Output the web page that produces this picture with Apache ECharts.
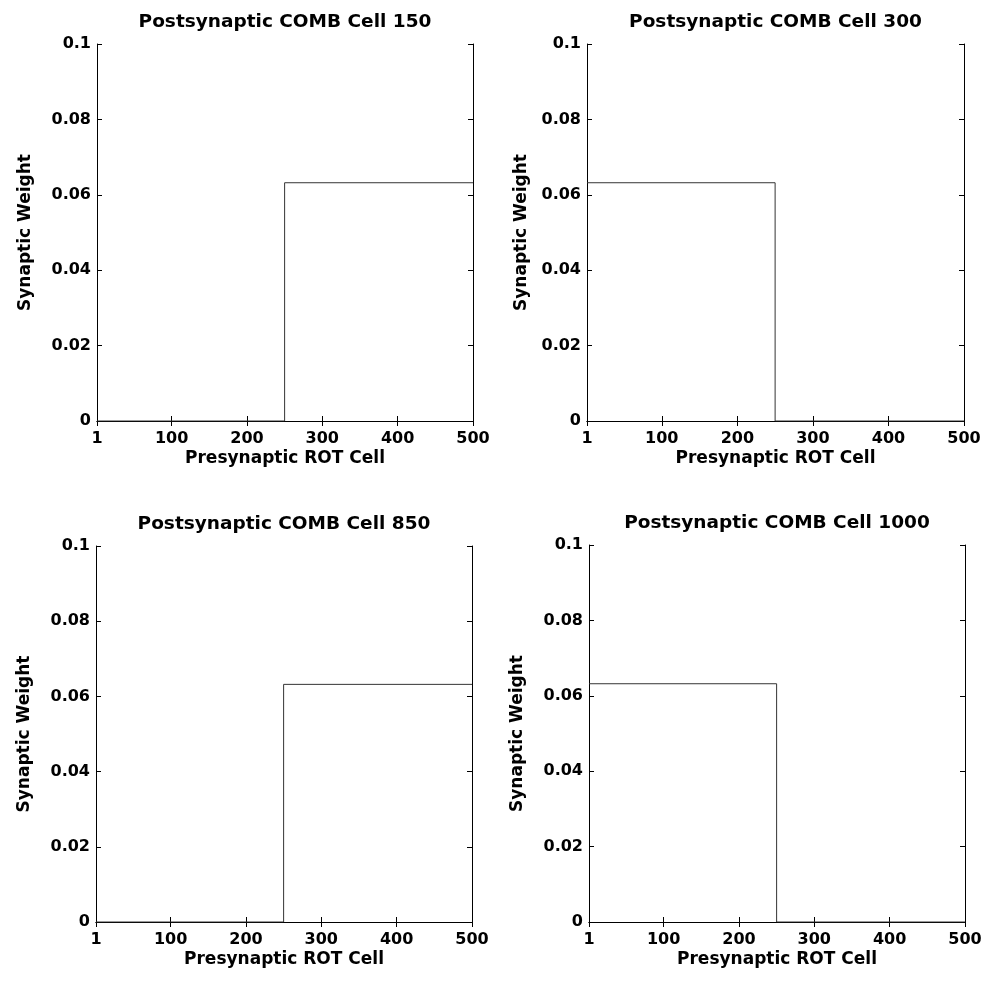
<!DOCTYPE html>
<html>
<head>
<meta charset="utf-8">
<script src="https://cdn.jsdelivr.net/npm/echarts@6/dist/echarts.min.js"></script>
<style>
html, body { margin: 0; padding: 0; background: #fff; }
#chart { width: 997px; height: 982px; }
</style>
</head>
<body>
<div id="chart"></div>
<script>
// step break points (presynaptic ROT cell)
const cells = [1, 250, 250, 500];
// weights for the two kinds of panel
const weightsHigh = [0, 0, 0.0632, 0.0632];
const weightsLow = [0.0632, 0.0632, 0, 0];
const panelTitles = [
	'Postsynaptic COMB Cell 150',
	'Postsynaptic COMB Cell 300',
	'Postsynaptic COMB Cell 850',
	'Postsynaptic COMB Cell 1000',
];
const panelWeights = [weightsHigh, weightsLow, weightsHigh, weightsLow];
const xTicks = [1, 100, 200, 300, 400, 500];
const xName = 'Presynaptic ROT Cell';
const yName = 'Synaptic Weight';

const font = 'DejaVu Sans';
const grids = [
	{ left: 97, top: 44, width: 376, height: 377 },
	{ left: 587, top: 44, width: 377, height: 377 },
	{ left: 96, top: 546, width: 376, height: 376 },
	{ left: 589, top: 545, width: 376, height: 377 },
];
const yNameGaps = [63, 57, 63, 63];

const chart = echarts.init(document.getElementById('chart'));
const title = [];
const xAxis = [];
const yAxis = [];
const series = [];
const line = { show: true, lineStyle: { color: '#000', width: 1 } };
const xTick = {
	show: true,
	inside: true,
	length: 5,
	customValues: xTicks,
	lineStyle: { color: '#000', width: 1 },
};
const yTick = {
	show: true,
	inside: true,
	length: 5,
	lineStyle: { color: '#000', width: 1 },
};

grids.forEach((g, i) => {
	title.push({
		text: panelTitles[i],
		left: g.left + g.width / 2,
		top: g.top - 31,
		textAlign: 'center',
		padding: 0,
		textStyle: { fontFamily: font, fontWeight: 'bold', fontSize: 18.5, color: '#000' },
	});
	// bottom + top x axes (box)
	xAxis.push({
		type: 'value',
		gridIndex: i,
		min: 1,
		max: 500,
		position: 'bottom',
		name: xName,
		nameLocation: 'middle',
		nameGap: 29,
		nameTextStyle: { fontFamily: font, fontWeight: 'bold', fontSize: 17, color: '#000' },
		axisLine: line,
		axisTick: xTick,
		axisLabel: {
			customValues: xTicks,
			margin: 10,
			fontFamily: font,
			fontWeight: 'bold',
			fontSize: 16,
			color: '#000',
		},
		splitLine: { show: false },
	});
	xAxis.push({
		type: 'value',
		gridIndex: i,
		min: 1,
		max: 500,
		position: 'top',
		axisLine: line,
		axisTick: xTick,
		axisLabel: { show: false },
		splitLine: { show: false },
	});
	// left + right y axes
	yAxis.push({
		type: 'value',
		gridIndex: i,
		min: 0,
		max: 0.1,
		interval: 0.02,
		position: 'left',
		name: yName,
		nameLocation: 'middle',
		nameGap: yNameGaps[i],
		nameTextStyle: { fontFamily: font, fontWeight: 'bold', fontSize: 17, color: '#000' },
		axisLine: line,
		axisTick: yTick,
		axisLabel: { margin: 6, fontFamily: font, fontWeight: 'bold', fontSize: 16, color: '#000' },
		splitLine: { show: false },
	});
	yAxis.push({
		type: 'value',
		gridIndex: i,
		min: 0,
		max: 0.1,
		interval: 0.02,
		position: 'right',
		axisLine: line,
		axisTick: yTick,
		axisLabel: { show: false },
		splitLine: { show: false },
	});
	series.push({
		type: 'line',
		xAxisIndex: 2 * i,
		yAxisIndex: 2 * i,
		data: cells.map((c, k) => [c, panelWeights[i][k]]),
		symbol: 'none',
		animation: false,
		lineStyle: { color: '#333', width: 1 },
	});
});

chart.setOption({
	backgroundColor: '#fff',
	animation: false,
	title,
	grid: grids,
	xAxis,
	yAxis,
	series,
});
</script>
</body>
</html>
